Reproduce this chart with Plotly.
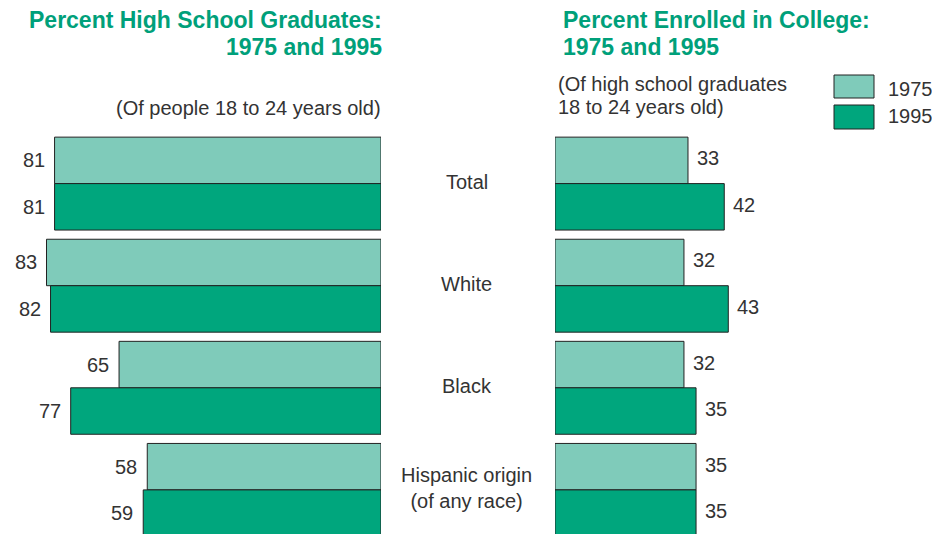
import plotly.graph_objects as go

# Data
categories = ["Total", "White", "Black", "Hispanic origin<br>(of any race)"]
years = ["1975", "1995"]
hs_grad_1975 = [81, 83, 65, 58]
hs_grad_1995 = [81, 82, 77, 59]
college_1975 = [33, 32, 32, 35]
college_1995 = [42, 43, 35, 35]

W, H = 932, 534
LIGHT = "#7FCBBA"
DARK = "#00A67D"
GREEN_TXT = "#00A07A"
TXT = "#333333"
FONT = "Liberation Sans, Arial, sans-serif"
BARGAP = 0.09

def px_x(p):
    return p / W

def px_y(p):
    return 1 - p / H

idx = list(range(len(categories)))
fig = go.Figure()

bar_line = dict(color="#222222", width=1)
for vals, col, name in [(hs_grad_1975, LIGHT, years[0]), (hs_grad_1995, DARK, years[1])]:
    fig.add_trace(go.Bar(x=vals, y=idx, orientation="h", marker=dict(color=col, line=bar_line),
                         name=name, xaxis="x", yaxis="y", showlegend=False, hoverinfo="x"))
for vals, col, name in [(college_1975, LIGHT, years[0]), (college_1995, DARK, years[1])]:
    fig.add_trace(go.Bar(x=vals, y=idx, orientation="h", marker=dict(color=col, line=bar_line),
                         name=name, xaxis="x2", yaxis="y", showlegend=False, hoverinfo="x"))

# pixel scale: ~4.03 px per percentage point on both panels
scale = 4.03
left_zero, right_zero = 381, 555
group_px, first_center = 102.1, 183.6

body = dict(family=FONT, size=20, color=TXT)
annotations = []
half = (1 - BARGAP) / 4
for i in idx:
    for vals, off in [(hs_grad_1975, -half), (hs_grad_1995, half)]:
        annotations.append(dict(x=vals[i], y=i + off, xref="x", yref="y", text=str(vals[i]),
                                xanchor="right", yanchor="middle", xshift=-8, showarrow=False,
                                font=body))
    for vals, off in [(college_1975, -half), (college_1995, half)]:
        annotations.append(dict(x=vals[i], y=i + off, xref="x2", yref="y", text=str(vals[i]),
                                xanchor="left", yanchor="middle", xshift=7, yshift=2,
                                showarrow=False, font=body))
    annotations.append(dict(x=px_x(467), y=i, xref="paper", yref="y", text=categories[i],
                            xanchor="center", yanchor="middle", showarrow=False, yshift=2,
                            font=body))

# Titles and subtitles
title_font = dict(family=FONT, size=23, color=GREEN_TXT)
for text, yc in [("<b>Percent High School Graduates:</b>", 20), ("<b>1975 and 1995</b>", 47)]:
    annotations.append(dict(x=px_x(384), y=px_y(yc), xref="paper", yref="paper", xanchor="right",
                            yanchor="middle", showarrow=False, text=text, font=title_font))
for text, yc in [("<b>Percent Enrolled in College:</b>", 20), ("<b>1975 and 1995</b>", 47)]:
    annotations.append(dict(x=px_x(561), y=px_y(yc), xref="paper", yref="paper", xanchor="left",
                            yanchor="middle", showarrow=False, text=text, font=title_font))

annotations.append(dict(x=px_x(383), y=px_y(108), xref="paper", yref="paper", xanchor="right",
                        yanchor="middle", showarrow=False, text="(Of people 18 to 24 years old)",
                        font=body))
for text, yc in [("(Of high school graduates", 84), ("18 to 24 years old)", 107)]:
    annotations.append(dict(x=px_x(556), y=px_y(yc), xref="paper", yref="paper", xanchor="left",
                            yanchor="middle", showarrow=False, text=text, font=body))

# Legend swatches
shapes = []
for (y0, y1), col, yr, yc in [((75, 98), LIGHT, years[0], 89), ((105, 129), DARK, years[1], 116)]:
    shapes.append(dict(type="rect", xref="paper", yref="paper", x0=px_x(834), x1=px_x(874),
                       y0=px_y(y1), y1=px_y(y0), fillcolor=col, line=dict(color="#222222", width=1)))
    annotations.append(dict(x=px_x(886), y=px_y(yc), xref="paper", yref="paper", xanchor="left",
                            yanchor="middle", showarrow=False, text=yr, font=body))

y_top = -first_center / group_px
y_bot = (H - first_center) / group_px

fig.update_layout(
    width=W, height=H, autosize=False,
    margin=dict(l=0, r=0, t=0, b=0),
    paper_bgcolor="white", plot_bgcolor="white",
    barmode="group", bargap=BARGAP, bargroupgap=0,
    xaxis=dict(domain=[0, px_x(left_zero)], range=[left_zero / scale, 0], visible=False,
               fixedrange=True),
    xaxis2=dict(domain=[px_x(right_zero), 1], range=[0, (W - right_zero) / scale], visible=False,
                anchor="y", fixedrange=True),
    yaxis=dict(domain=[0, 1], range=[y_bot, y_top], visible=False, fixedrange=True),
    annotations=annotations,
    shapes=shapes,
    showlegend=False,
)

fig.write_html("out.html")
